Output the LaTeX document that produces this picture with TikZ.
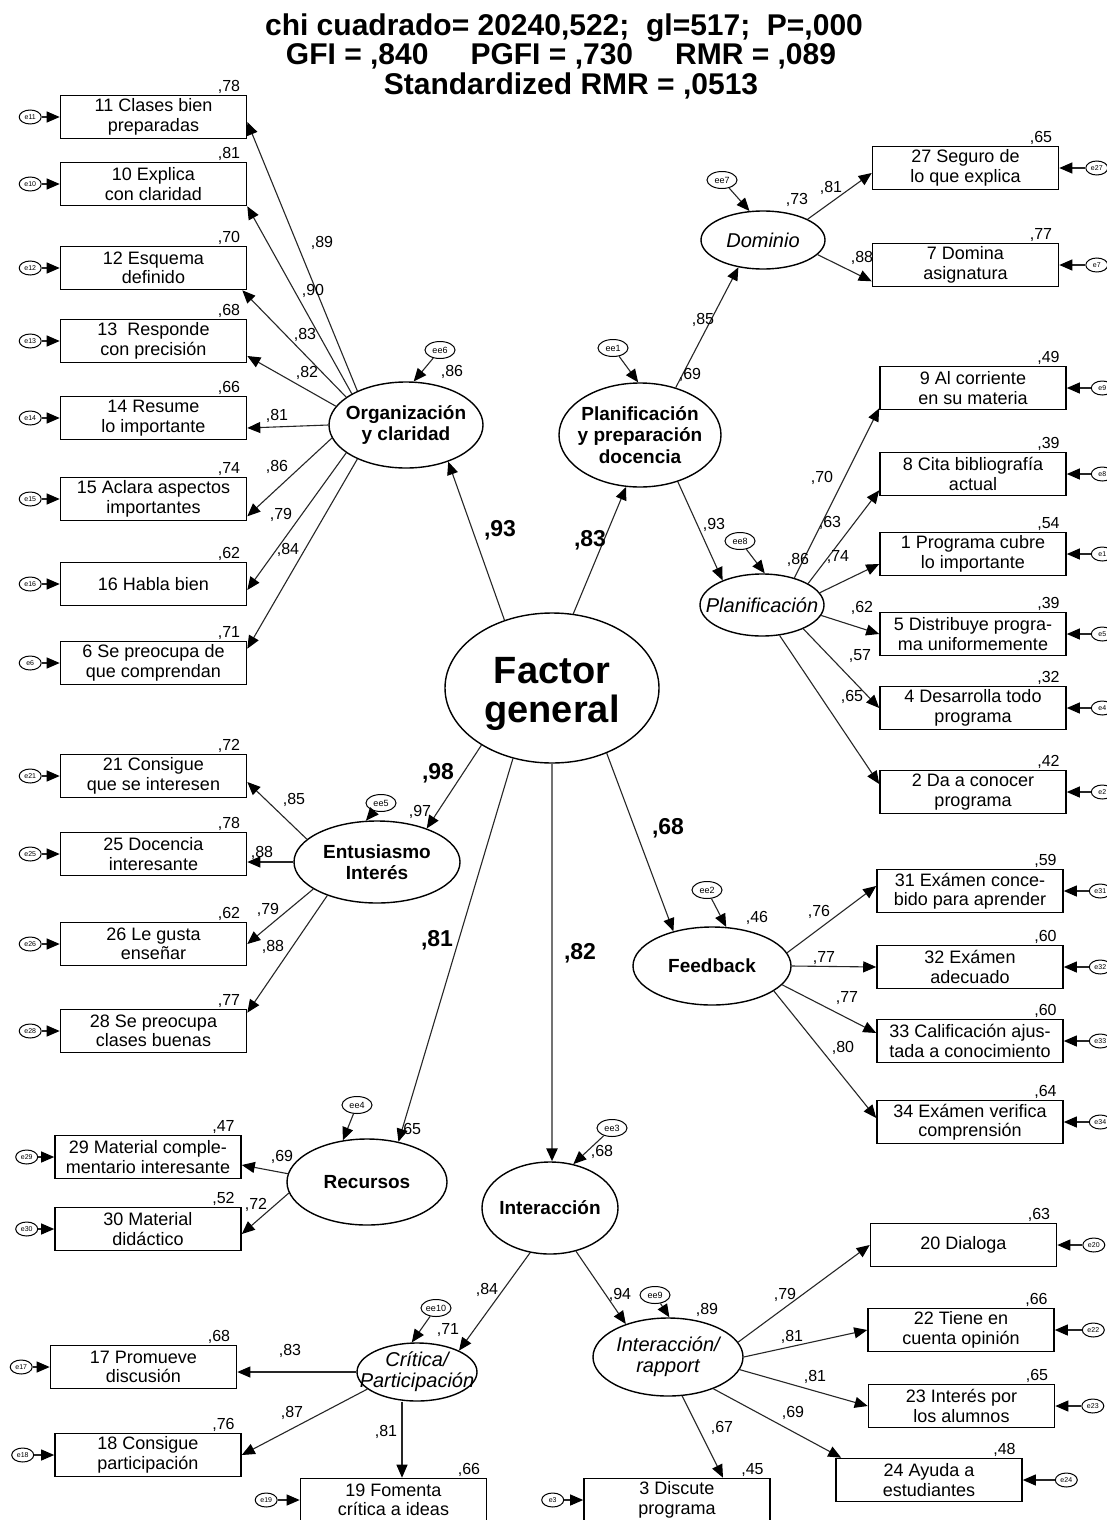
\documentclass[tikz,border=0pt]{standalone}
\usepackage{fontspec}
\setmainfont{Liberation Sans}
\usetikzlibrary{shapes.geometric,arrows.meta,positioning}
\tikzset{
  arr/.style={draw=black!85, line width=1.1pt, -{Triangle[length=13pt,width=11pt,black]}},
  arrg/.style={draw=black!55, line width=2.6pt, -{Triangle[length=13pt,width=11pt,black]}},
  obs/.style={draw, line width=1.6pt, rectangle, minimum width=186pt, minimum height=43pt, inner sep=1pt, align=center, font=\fontsize{18}{19.5}\selectfont},
  lat/.style={draw, line width=1.4pt, ellipse, inner sep=0pt},
  lbb/.style={font=\bfseries\fontsize{19}{21.5}\selectfont, align=center, inner sep=0pt},
  lbi/.style={font=\itshape\fontsize{20}{21}\selectfont, align=center, inner sep=0pt},
  err/.style={draw, line width=1pt, ellipse, minimum width=22pt, minimum height=14pt, inner sep=0pt, font=\fontsize{7}{7}\selectfont},
  dist/.style={draw, line width=1pt, ellipse, minimum width=30pt, minimum height=17pt, inner sep=0pt, font=\fontsize{9}{9}\selectfont},
  ld/.style={font=\fontsize{16}{16}\selectfont, inner sep=0pt},
  bld/.style={font=\bfseries\fontsize{23}{23}\selectfont, inner sep=0pt},
  rsq/.style={font=\fontsize{16}{16}\selectfont, inner sep=0pt, anchor=south east},
  ttl/.style={font=\bfseries\fontsize{30}{30}\selectfont, inner sep=0pt},
}
\begin{document}
\begin{tikzpicture}[x=1pt,y=-1pt]
\useasboundingbox[fill=white] (0,0) rectangle (1107,1520);

% ---------- title ----------
\node[ttl] (t1) at (564,28) {chi cuadrado= 20240,522;\ \ gl=517;\ \ P=,000};
\node[ttl] (t2) at (561,56) {GFI = ,840\hspace{42pt}PGFI = ,730\hspace{42pt}RMR = ,089};
\node[ttl] (t3) at (571,86) {Standardized RMR = ,0513};

% ---------- observed variables ----------
\node[obs] (b11) at (153.5,117) {11 Clases bien\\preparadas};
\node[obs] (b10) at (153.5,184) {10 Explica\\con claridad};
\node[obs] (b12) at (153.5,268) {12 Esquema\\definido};
\node[obs] (b13) at (153.5,341) {13\ \ Responde\\con precisión};
\node[obs] (b14) at (153.5,418) {14 Resume\\lo importante};
\node[obs] (b15) at (153.5,499) {15 Aclara aspectos\\importantes};
\node[obs] (b16) at (153.5,584) {16 Habla bien};
\node[obs] (b6)  at (153.5,663) {6 Se preocupa de\\que comprendan};
\node[obs] (b21) at (153.5,776) {21 Consigue\\que se interesen};
\node[obs] (b25) at (153.5,854) {25 Docencia\\interesante};
\node[obs] (b26) at (153.5,944) {26 Le gusta\\enseñar};
\node[obs] (b28) at (153.5,1031) {28 Se preocupa\\clases buenas};
\node[obs] (b29) at (148,1157) {29 Material comple-\\mentario interesante};
\node[obs] (b30) at (148,1229) {30 Material\\didáctico};
\node[obs] (b17) at (143.5,1367) {17 Promueve\\discusión};
\node[obs] (b18) at (148,1455) {18 Consigue\\participación};
\node[obs] (b19) at (393.5,1500) {19 Fomenta\\crítica a ideas};
\node[obs] (b3)  at (677,1500) {3 Discute\\programa};

\node[obs] (b27) at (965.5,168) {27 Seguro de\\lo que explica};
\node[obs] (b7)  at (965.5,265) {7 Domina\\asignatura};
\node[obs] (b9)  at (973,388) {9 Al corriente\\en su materia};
\node[obs] (b8)  at (973,474) {8 Cita bibliografía\\actual};
\node[obs] (b1)  at (973,554) {1 Programa cubre\\lo importante};
\node[obs] (b5)  at (973,634) {5 Distribuye progra-\\ma uniformemente};
\node[obs] (b4)  at (973,708) {4 Desarrolla todo\\programa};
\node[obs] (b2)  at (973,792) {2 Da a conocer\\programa};
\node[obs] (b31) at (970,891) {31 Exámen conce-\\bido para aprender};
\node[obs] (b32) at (970,967) {32 Exámen\\adecuado};
\node[obs] (b33) at (970,1041) {33 Calificación ajus-\\tada a conocimiento};
\node[obs] (b34) at (970,1122) {34 Exámen verifica\\comprensión};
\node[obs] (b20) at (963.5,1245) {20 Dialoga};
\node[obs] (b22) at (961,1330) {22 Tiene en\\cuenta opinión};
\node[obs] (b23) at (961.5,1406) {23 Interés por\\los alumnos};
\node[obs] (b24) at (929,1480) {24 Ayuda a\\estudiantes};

% R^2 of observed variables
\foreach \b/\v in {b11/78,b10/81,b12/70,b13/68,b14/66,b15/74,b16/62,b6/71,b21/72,b25/78,b26/62,b28/77,b29/47,b30/52,b17/68,b18/76,b19/66,b3/45,b27/65,b7/77,b9/49,b8/39,b1/54,b5/39,b4/32,b2/42,b31/59,b32/60,b33/60,b34/64,b20/63,b22/66,b23/65,b24/48}
  \node[rsq] (r\b) at ([xshift=-7pt,yshift=1pt]\b.north east) {,\v};

% ---------- error terms ----------
\foreach \b/\t/\g in {b11/e11/18pt,b10/e10/18pt,b12/e12/18pt,b13/e13/18pt,b14/e14/18pt,b15/e15/18pt,b16/e16/18pt,b6/e6/18pt,b21/e21/18pt,b25/e25/18pt,b26/e26/18pt,b28/e28/18pt,b29/e29/16pt,b30/e30/16pt,b17/e17/17pt,b18/e18/20pt,b19/e19/22pt,b3/e3/19pt}
  {\node[err, left=\g of \b] (e\b) {\t};
   \draw[arr] (e\b) -- (\b);}
\foreach \b/\t/\g in {b27/e27/26pt,b7/e7/26pt,b9/e9/24pt,b8/e8/24pt,b1/e1/24pt,b5/e5/24pt,b4/e4/24pt,b2/e2/24pt,b31/e31/25pt,b32/e32/25pt,b33/e33/25pt,b34/e34/25pt,b20/e20/25pt,b22/e22/27pt,b23/e23/26pt,b24/e24/32pt}
  {\node[err, right=\g of \b] (e\b) {\t};
   \draw[arr] (e\b) -- (\b);}

% ---------- latent variables ----------
\node[lat, minimum width=214pt, minimum height=150pt,
  label={[font=\bfseries\fontsize{38}{39}\selectfont, align=center, inner sep=0pt, yshift=-6pt]center:Factor\\general}] (fg) at (552,688) {};
\node[lat, minimum width=154pt, minimum height=86pt, label={[lbb]center:Organización\\y claridad}] (org) at (406,425) {};
\node[lat, minimum width=162pt, minimum height=104pt, label={[lbb]center:Planificación\\y preparación\\docencia}] (pp) at (640,435) {};
\node[lat, minimum width=124pt, minimum height=58pt, label={[lbi]center:Dominio}] (dom) at (763,240) {};
\node[lat, minimum width=124pt, minimum height=62pt, label={[lbi]center:Planificación}] (pl) at (762,605) {};
\node[lat, minimum width=166pt, minimum height=82pt, label={[lbb]center:Entusiasmo\\Interés}] (ent) at (377,862) {};
\node[lat, minimum width=158pt, minimum height=78pt, label={[lbb]center:Feedback}] (fb) at (712,966) {};
\node[lat, minimum width=160pt, minimum height=86pt, label={[lbb]center:Recursos}] (rec) at (367,1182) {};
\node[lat, minimum width=136pt, minimum height=92pt, label={[lbb]center:Interacción}] (int) at (550,1208) {};
\node[lat, minimum width=120pt, minimum height=58pt, label={[lbi]center:Crítica/\\Participación}] (crit) at (417,1372) {};
\node[lat, minimum width=150pt, minimum height=78pt, label={[lbi]center:Interacción/\\rapport}] (rap) at (668,1357) {};

% disturbances
\node[dist] (ee6) at (440,350) {ee6};
\node[dist] (ee1) at (613,348) {ee1};
\node[dist] (ee7) at (722,180) {ee7};
\node[dist] (ee8) at (740,541) {ee8};
\node[dist] (ee5) at (381,803) {ee5};
\node[dist] (ee2) at (707,890) {ee2};
\node[dist] (ee4) at (357,1105) {ee4};
\node[dist] (ee3) at (612,1128) {ee3};
\node[dist] (ee10) at (436,1308) {ee10};
\node[dist] (ee9) at (655,1295) {ee9};
\draw[arr] (ee6) -- (org.80);
\draw[arr] (ee1) -- (pp.92);
\draw[arr] (ee7) -- (dom.115);
\draw[arr] (ee8) -- (pl.85);
\draw[arr] (ee5) -- (ent.105);
\draw[arr] (ee2) -- (fb.70);
\draw[arr] (ee4) -- (rec.120);
\draw[arr] (ee3) -- (int.62);
\draw[arr] (ee10) -- (crit.100);
\draw[arr] (ee9) -- (rap.88);

% ---------- structural paths ----------
\draw[arr] (fg.125) -- (org.319);
\draw[arr] (fg.74) -- (pp.255);
\draw[arr] (fg.219) -- (ent.34);
\draw[arr] (fg.241) -- (rec.52);
\draw[arrg] (fg.south) -- (fg.south |- int.north);
\draw[arr] (fg.310) -- (fb.138);
\draw[arr] (pp.53) -- (dom.228);
\draw[arr] (pp.309) -- (pl.148);
\draw[arr] (int.246) -- (crit.27);
\draw[arr] (int.301) -- (rap.142);

% ---------- measurement paths ----------
\draw[arr] (org.145) -- ([yshift=-5pt]b11.east);
\draw[arr] (org.150) -- (b10.south east);
\draw[arr] (org.155) -- ([xshift=-5pt]b12.south east);
\draw[arr] (org.165) -- ([yshift=-15pt]b13.east);
\draw[arr] (org.west) -- ([yshift=-10pt]b14.east);
\draw[arr] (org.190) -- ([yshift=5pt]b15.south east);
\draw[arr] (org.205) -- ([yshift=-6pt]b16.east);
\draw[arr] (org.215) -- ([yshift=-8pt]b6.north east);

\draw[arr] (ent.162) -- ([yshift=-6pt]b21.east);
\draw[arr] (ent.west) -- (ent.west -| b25.east);
\draw[arr] (ent.203) -- (b26.east);
\draw[arr] (ent.214) -- ([yshift=-4pt]b28.north east);

\draw[arr] (rec.174) -- ([yshift=-8pt]b29.east);
\draw[arr] (rec.188) -- ([yshift=-5pt]b30.east);

\draw[arr] (crit.west) -- (crit.west -| b17.east);
\draw[arr] (crit.199) -- (b18.east);
\draw[arr] ([xshift=-15pt]crit.south) -- ([xshift=-15pt]crit.south |- b19.north);

\draw[arr] (rap.12) -- (b20.west);
\draw[arr] (rap.east) -- (b22.west);
\draw[arr] (rap.350) -- (b23.west);
\draw[arr] (rap.325) -- ([xshift=6pt]b24.north west);
\draw[arr] (rap.290) -- ([xshift=46pt]b3.north);

\draw[arr] (fb.10) -- ([yshift=5pt]b31.west);
\draw[arr] (fb.east) -- (b32.west);
\draw[arr] (fb.345) -- ([yshift=8pt]b33.west);
\draw[arr] (fb.338) -- ([yshift=4pt]b34.west);

\draw[arr] (dom.25) -- ([yshift=-5pt]b27.west);
\draw[arr] (dom.345) -- ([yshift=6pt]b7.south west);

\draw[arr] (pl.40) -- ([yshift=2pt]b9.south west);
\draw[arr] (pl.25) -- ([yshift=6pt]b8.south west);
\draw[arr] (pl.12) -- ([yshift=-10pt]b1.west);
\draw[arr] (pl.350) -- (b5.west);
\draw[arr] (pl.330) -- (b4.west);
\draw[arr] (pl.300) -- ([yshift=8pt]b2.west);

% ---------- loadings ----------
\foreach \x/\y/\v [count=\i] in {322/243/89,313/291/90,305/335/83,307/373/82,277/416/81,277/467/86,281/515/79,288/550/84,
  294/800/85,262/853/88,268/910/79,273/947/88,282/1157/69,256/1205/72,
  290/1351/83,292/1413/87,386/1432/81,487/1290/84,620/1295/94,
  785/1295/79,792/1337/81,815/1377/81,793/1413/69,722/1428/67,
  819/912/76,824/958/77,847/998/77,843/1048/80,
  831/188/81,862/258/88,703/320/85,
  822/478/70,830/523/63,838/557/74,862/608/62,860/656/57,852/697/65,714/525/93}
  \node[ld] (ld\i) at (\x,\y) {,\v};

% R^2 of latent variables
\foreach \x/\y/\v [count=\i] in {452/372/86,690/375/69,797/200/73,798/560/86,420/812/97,757/918/46,410/1130/65,602/1152/68,448/1330/71,707/1310/89}
  \node[ld] (lr\i) at (\x,\y) {,\v};

% second-order loadings (bold)
\foreach \x/\y/\v [count=\i] in {500/530/93,590/540/83,438/773/98,437/940/81,580/953/82,668/828/68}
  \node[bld] (lb\i) at (\x,\y) {,\v};

\end{tikzpicture}
\end{document}
